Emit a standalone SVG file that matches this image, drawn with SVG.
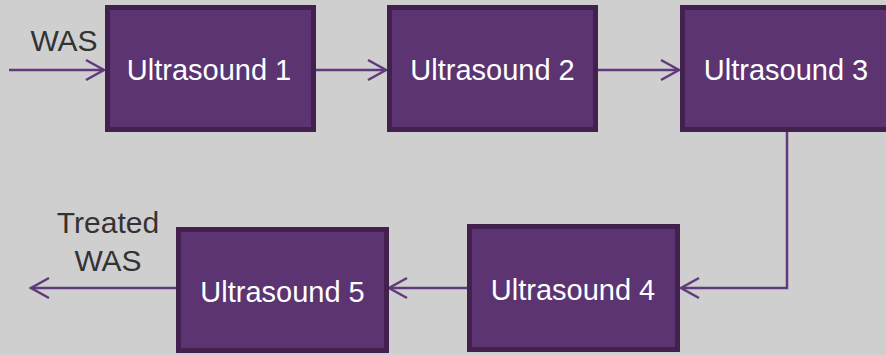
<svg xmlns="http://www.w3.org/2000/svg" width="886" height="355" viewBox="0 0 886 355">
<defs>
<style>
.box{fill:#5c3472;stroke:#43214f;stroke-width:5}
.bt{fill:#ffffff;font-family:"Liberation Sans",Arial,sans-serif;font-size:29px;text-anchor:middle}
.lb{fill:#333333;font-family:"Liberation Sans",Arial,sans-serif;font-size:30px;text-anchor:middle}
.c{fill:none;stroke:#5f3a7d;stroke-width:2.5;marker-end:url(#ah)}
</style>
<marker id="ah" markerUnits="userSpaceOnUse" viewBox="-20 -12 22 24" refX="0" refY="0" markerWidth="22" markerHeight="24" orient="auto" overflow="visible">
<path d="M-18,-10 L0,0 L-18,10" fill="none" stroke="#5f3a7d" stroke-width="2.5"/>
</marker>
</defs>
<rect width="886" height="355" fill="#cfcfcf"/>
<g id="connectors">
<path class="c" d="M9,70 H104"/>
<path class="c" d="M316,70 H386"/>
<path class="c" d="M598,70 H679"/>
<path class="c" d="M787,132 V288 H681"/>
<path class="c" d="M468,288 H389"/>
<path class="c" d="M176,288 H31"/>
</g>
<g id="us1"><rect class="box" x="107.5" y="7.5" width="206" height="122"/><text class="bt" x="209" y="80">Ultrasound 1</text></g>
<g id="us2"><rect class="box" x="389.5" y="7.5" width="206" height="122"/><text class="bt" x="492.5" y="80">Ultrasound 2</text></g>
<g id="us3"><rect class="box" x="682.5" y="7.5" width="210" height="122"/><text class="bt" x="786" y="80">Ultrasound 3</text></g>
<g id="us4"><rect class="box" x="469.5" y="226.5" width="208" height="123"/><text class="bt" x="573" y="300">Ultrasound 4</text></g>
<g id="us5"><rect class="box" x="178.5" y="229.5" width="208" height="121"/><text class="bt" x="282.5" y="302">Ultrasound 5</text></g>
<g id="labels">
<text class="lb" x="64" y="51">WAS</text>
<text class="lb" x="108" y="233">Treated</text>
<text class="lb" x="108" y="271">WAS</text>
</g>
</svg>
